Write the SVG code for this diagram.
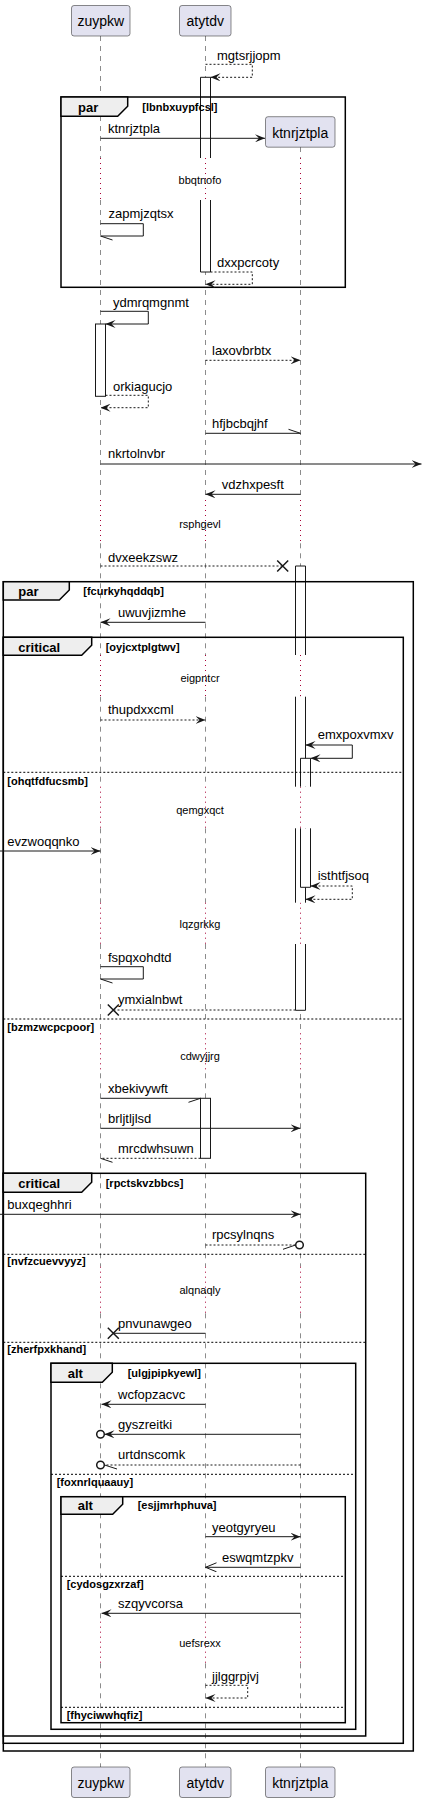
<svg xmlns="http://www.w3.org/2000/svg" width="423" height="1803" viewBox="0 0 423 1803">
<defs>
<style>
.pbox{fill:#E2E2F0;stroke:#181818;stroke-width:0.5}
.pname{font-family:'Liberation Sans',Arial,sans-serif;font-size:14px;fill:#000;text-anchor:middle}
.life{stroke:#181818;stroke-width:0.5;stroke-dasharray:5,5;fill:none}
.delay{stroke:#A80036;stroke-width:1;stroke-dasharray:1,4;fill:none}
.act{fill:#fff;stroke:none}
.actl{fill:none;stroke:#181818;stroke-width:1}
.actf{fill:#fff;stroke:#181818;stroke-width:1}
.frame{fill:none;stroke:#000;stroke-width:1.5}
.tab{fill:#EEEEEE;stroke:#000;stroke-width:1.5}
.div{stroke:#000;stroke-width:1;stroke-dasharray:2,2;fill:none}
.ft{font-family:'Liberation Sans',Arial,sans-serif;font-size:13px;font-weight:bold;fill:#000}
.gt{font-family:'Liberation Sans',Arial,sans-serif;font-size:11px;font-weight:bold;fill:#000}
.msg{stroke:#181818;stroke-width:1;fill:none}
.dash{stroke-dasharray:2,2}
.mt{font-family:'Liberation Sans',Arial,sans-serif;font-size:13px;fill:#000}
.dt{font-family:'Liberation Sans',Arial,sans-serif;font-size:11px;fill:#000;text-anchor:middle}
.xm{stroke:#181818;stroke-width:1.5;fill:none}
.circ{stroke:#181818;stroke-width:1.5;fill:#fff}
.half{stroke:#181818;stroke-width:1;fill:none}
</style>
<marker id="arr" viewBox="0 0 10 8" refX="10" refY="4" markerWidth="10" markerHeight="8" orient="auto" markerUnits="userSpaceOnUse">
<polygon points="0,0 10,4 0,8 4,4" fill="#181818"/>
</marker>
<marker id="arrs" viewBox="0 0 10 8" refX="10" refY="4" markerWidth="10" markerHeight="8" orient="auto-start-reverse" markerUnits="userSpaceOnUse">
<polygon points="0,0 10,4 0,8 4,4" fill="#181818"/>
</marker>
<marker id="open" viewBox="0 0 12 10" refX="11" refY="5" markerWidth="12" markerHeight="10" orient="auto" markerUnits="userSpaceOnUse">
<path d="M0,0.5 L11,5 L0,9.5" fill="none" stroke="#181818" stroke-width="1"/>
</marker>
</defs>

<g id="lifelines">
<path class="life" d="M100.5,36 V158 M100.5,200 V500 M100.5,543.3 V655 M100.5,696.7 V786.7 M100.5,828.3 V902.7 M100.5,944 V1033.3 M100.5,1073.3 V1266.7 M100.5,1313.3 V1621.7 M100.5,1663.3 V1767"/>
<path class="life" d="M205.5,36 V158 M205.5,200 V500 M205.5,543.3 V655 M205.5,696.7 V786.7 M205.5,828.3 V902.7 M205.5,944 V1033.3 M205.5,1073.3 V1266.7 M205.5,1313.3 V1621.7 M205.5,1663.3 V1767"/>
<path class="life" d="M300.5,147 V158 M300.5,200 V500 M300.5,543.3 V655 M300.5,696.7 V786.7 M300.5,828.3 V902.7 M300.5,944 V1033.3 M300.5,1073.3 V1266.7 M300.5,1313.3 V1621.7 M300.5,1663.3 V1767"/>
<path class="delay" d="M100.5,158 V200 M100.5,500 V543.3 M100.5,655 V696.7 M100.5,786.7 V828.3 M100.5,902.7 V944 M100.5,1033.3 V1073.3 M100.5,1266.7 V1313.3 M100.5,1621.7 V1663.3"/>
<path class="delay" d="M205.5,158 V200 M205.5,500 V543.3 M205.5,655 V696.7 M205.5,786.7 V828.3 M205.5,902.7 V944 M205.5,1033.3 V1073.3 M205.5,1266.7 V1313.3 M205.5,1621.7 V1663.3"/>
<path class="delay" d="M300.5,158 V200 M300.5,500 V543.3 M300.5,655 V696.7 M300.5,786.7 V828.3 M300.5,902.7 V944 M300.5,1033.3 V1073.3 M300.5,1266.7 V1313.3 M300.5,1621.7 V1663.3"/>
</g>

<g id="delays">
<text class="dt" x="200" y="184">bbqtnofo</text>
<text class="dt" x="200" y="528">rsphgevl</text>
<text class="dt" x="200" y="681.5">eigpntcr</text>
<text class="dt" x="200" y="813.5">qemgxqct</text>
<text class="dt" x="200" y="928">lqzgrkkg</text>
<text class="dt" x="200" y="1060">cdwyjjrg</text>
<text class="dt" x="200" y="1294">alqnaqly</text>
<text class="dt" x="200" y="1647">uefsrexx</text>
</g>

<g id="activations">
<rect class="act" x="200.5" y="77.3" width="10" height="80.7"/>
<path class="actl" d="M200.5,158 V77.3 H210.5 V158"/>
<rect class="act" x="200.5" y="200" width="10" height="72"/>
<path class="actl" d="M200.5,200 V272 H210.5 V200"/>
<rect class="actf" x="95.5" y="324" width="10" height="72.3"/>
<rect class="act" x="295.5" y="566" width="10" height="89"/>
<path class="actl" d="M295.5,655 V566 H305.5 V655"/>
<rect class="act" x="295.5" y="696.7" width="10" height="90"/>
<path class="actl" d="M295.5,696.7 V786.7 M305.5,696.7 V786.7"/>
<rect class="act" x="295.5" y="828.3" width="10" height="74.4"/>
<path class="actl" d="M295.5,828.3 V902.7 M305.5,828.3 V902.7"/>
<rect class="act" x="295.5" y="944" width="10" height="66.3"/>
<path class="actl" d="M295.5,944 V1010.3 H305.5 V944"/>
<rect class="act" x="300.5" y="758.3" width="10" height="28.4"/>
<path class="actl" d="M300.5,786.7 V758.3 H310.5 V786.7"/>
<rect class="act" x="300.5" y="828.3" width="10" height="59"/>
<path class="actl" d="M300.5,828.3 V887.3 H310.5 V828.3"/>
<rect class="actf" x="200.5" y="1098.3" width="10" height="60"/>
</g>

<g id="frame-par1">
<rect class="frame" x="61" y="97" width="284.3" height="190.3"/>
<path class="tab" d="M61,97 H127.7 V106.3 L117.7,116.3 H61 Z"/>
<text class="ft" x="78" y="111.5">par</text>
<text class="gt" x="142.3" y="110.5">[lbnbxuypfcsl]</text>
</g>
<g id="frame-par2">
<rect class="frame" x="3.3" y="581.7" width="410" height="1169.3"/>
<path class="tab" d="M3.3,581.7 H69.3 V590 L59.3,600 H3.3 Z"/>
<text class="ft" x="18.3" y="595.5">par</text>
<text class="gt" x="83.3" y="594.5">[fcurkyhqddqb]</text>
</g>
<g id="frame-critical1">
<rect class="frame" x="3.3" y="637.3" width="400" height="1106"/>
<path class="tab" d="M3.3,637.3 H91.7 V645.3 L81.7,655.3 H3.3 Z"/>
<text class="ft" x="18.3" y="651.5">critical</text>
<text class="gt" x="105.7" y="650.5">[oyjcxtplgtwv]</text>
<path class="div" d="M3.3,772.3 H403.3 M3.3,1019 H403.3"/>
<text class="gt" x="7.3" y="784.5">[ohqtfdfucsmb]</text>
<text class="gt" x="7.3" y="1031">[bzmzwcpcpoor]</text>
</g>
<g id="frame-critical2">
<rect class="frame" x="3.3" y="1173.3" width="362.4" height="562.7"/>
<path class="tab" d="M3.3,1173.3 H91.7 V1182.3 L81.7,1192.3 H3.3 Z"/>
<text class="ft" x="18.3" y="1187.5">critical</text>
<text class="gt" x="105.7" y="1186.5">[rpctskvzbbcs]</text>
<path class="div" d="M3.3,1254.3 H365.7 M3.3,1342.3 H365.7"/>
<text class="gt" x="7.3" y="1265">[nvfzcuevvyyz]</text>
<text class="gt" x="7.3" y="1353">[zherfpxkhand]</text>
</g>
<g id="frame-alt1">
<rect class="frame" x="51" y="1363.3" width="304.7" height="366"/>
<path class="tab" d="M51,1363.3 H112.3 V1372.3 L102.3,1382.3 H51 Z"/>
<text class="ft" x="67.7" y="1377.5">alt</text>
<text class="gt" x="127.7" y="1376.5">[ulgjpipkyewl]</text>
<path class="div" d="M51,1474.3 H355.7"/>
<text class="gt" x="56.7" y="1485.5">[foxnrlquaauy]</text>
</g>
<g id="frame-alt2">
<rect class="frame" x="61" y="1496.7" width="284.3" height="226"/>
<path class="tab" d="M61,1496.7 H122.7 V1504.3 L112.7,1514.3 H61 Z"/>
<text class="ft" x="77.7" y="1509.5">alt</text>
<text class="gt" x="137.7" y="1508.5">[esjjmrhphuva]</text>
<path class="div" d="M61,1576.3 H345.3 M61,1707.3 H345.3"/>
<text class="gt" x="66.7" y="1588">[cydosgzxrzaf]</text>
<text class="gt" x="66.7" y="1718.5">[fhyciwwhqfiz]</text>
</g>

<g id="participant-zuypkw">
<rect class="pbox" x="71.5" y="5.5" width="58.5" height="30.5" rx="2.5"/>
<text class="pname" x="100.75" y="26">zuypkw</text>
<rect class="pbox" x="71.5" y="1767" width="58.5" height="30.5" rx="2.5"/>
<text class="pname" x="100.75" y="1788">zuypkw</text>
</g>
<g id="participant-atytdv">
<rect class="pbox" x="179.5" y="5.5" width="51.5" height="30.5" rx="2.5"/>
<text class="pname" x="205.25" y="26">atytdv</text>
<rect class="pbox" x="179.5" y="1767" width="51.5" height="30.5" rx="2.5"/>
<text class="pname" x="205.25" y="1788">atytdv</text>
</g>
<g id="participant-ktnrjztpla">
<rect class="pbox" x="265.5" y="116.7" width="69.5" height="30.5" rx="2.5"/>
<text class="pname" x="300.25" y="137.7">ktnrjztpla</text>
<rect class="pbox" x="265.5" y="1767" width="69.5" height="30.5" rx="2.5"/>
<text class="pname" x="300.25" y="1788">ktnrjztpla</text>
</g>

<g id="connectors">
<path class="msg dash" d="M205.5,64.3 H252.3 V77.3 H210.5" marker-end="url(#arr)"/>
<text class="mt" x="217" y="60">mgtsrjjopm</text>

<path class="msg" d="M100.5,138.3 H265" marker-end="url(#arr)"/>
<text class="mt" x="108" y="133">ktnrjztpla</text>

<path class="msg" d="M100.5,223.7 H143.3 V236 H100.5"/>
<path class="half" d="M100.5,236 L112.5,240"/>
<text class="mt" x="108.5" y="218">zapmjzqtsx</text>

<path class="msg dash" d="M210.5,272 H252.3 V284.3 H205.5" marker-end="url(#arr)"/>
<text class="mt" x="217" y="267">dxxpcrcoty</text>

<path class="msg" d="M100.5,311.3 H148.3 V324 H105.5" marker-end="url(#arr)"/>
<text class="mt" x="113" y="306.5">ydmrqmgnmt</text>

<path class="msg dash" d="M205.5,360.3 H300.5" marker-end="url(#arr)"/>
<text class="mt" x="212" y="355">laxovbrbtx</text>

<path class="msg dash" d="M105.5,395.3 H148.3 V407.7 H100.5" marker-end="url(#arr)"/>
<text class="mt" x="113" y="390.5">orkiagucjo</text>

<path class="msg" d="M205.5,433.3 H300.5"/>
<path class="half" d="M288.5,429.3 L300.5,433.3"/>
<text class="mt" x="212" y="428">hfjbcbqjhf</text>

<path class="msg" d="M100.5,464 H421.5" marker-end="url(#arr)"/>
<text class="mt" x="108" y="458">nkrtolnvbr</text>

<path class="msg" d="M300.5,494.3 H205.5" marker-end="url(#arr)"/>
<text class="mt" x="221.7" y="489">vdzhxpesft</text>

<path class="msg dash" d="M100.5,566 H282.7"/>
<path class="xm" d="M277.2,560.5 L288.2,571.5 M288.2,560.5 L277.2,571.5"/>
<text class="mt" x="108" y="561.5">dvxeekzswz</text>

<path class="msg" d="M205.5,622.3 H100.5" marker-end="url(#arr)"/>
<text class="mt" x="118" y="617">uwuvjizmhe</text>

<path class="msg dash" d="M100.5,720 H205.5" marker-end="url(#arr)"/>
<text class="mt" x="108" y="714">thupdxxcml</text>

<path class="msg" d="M305.5,745 H352.3 V758.3 H310.5" marker-start="url(#arrs)" marker-end="url(#arr)"/>
<text class="mt" x="317.7" y="739">emxpoxvmxv</text>

<path class="msg" d="M0,851 H100.5" marker-end="url(#arr)"/>
<text class="mt" x="7.3" y="846">evzwoqqnko</text>

<path class="msg dash" d="M310.5,886 H352.3 V899.3 H305.5" marker-start="url(#arrs)" marker-end="url(#arr)"/>
<text class="mt" x="317.7" y="880">isthtfjsoq</text>

<path class="msg" d="M100.5,966.7 H143.3 V979 H100.5"/>
<path class="half" d="M100.5,979 L112.5,983"/>
<text class="mt" x="108" y="961.5">fspqxohdtd</text>

<path class="msg dash" d="M295.5,1010 H113.3"/>
<path class="xm" d="M107.8,1004.5 L118.8,1015.5 M118.8,1004.5 L107.8,1015.5"/>
<text class="mt" x="118" y="1004">ymxialnbwt</text>

<path class="msg" d="M100.5,1098.3 H200.5"/>
<path class="half" d="M188.5,1102.3 L200.5,1098.3"/>
<text class="mt" x="108" y="1092.5">xbekivywft</text>

<path class="msg" d="M100.5,1128.3 H300.5" marker-end="url(#arr)"/>
<text class="mt" x="108" y="1123">brljtljlsd</text>

<path class="msg dash" d="M200.5,1158.3 H100.5"/>
<path class="half" d="M100.5,1158.3 L112.5,1162.3"/>
<text class="mt" x="118" y="1153">mrcdwhsuwn</text>

<path class="msg" d="M0,1214.3 H300.5" marker-end="url(#arr)"/>
<text class="mt" x="7.3" y="1209">buxqeghhri</text>

<path class="msg dash" d="M205.5,1245 H295.5"/>
<path class="half" d="M283,1249.3 L295.5,1245"/>
<circle class="circ" cx="299.5" cy="1245" r="3.8"/>
<text class="mt" x="212" y="1239">rpcsylnqns</text>

<path class="msg" d="M205.5,1333.3 H113.3"/>
<path class="xm" d="M107.8,1327.8 L118.8,1338.8 M118.8,1327.8 L107.8,1338.8"/>
<text class="mt" x="118" y="1327.5">pnvunawgeo</text>

<path class="msg" d="M205.5,1404.3 H101.5" marker-end="url(#arr)"/>
<text class="mt" x="118" y="1399">wcfopzacvc</text>

<path class="msg" d="M300.5,1434.3 H104.5" marker-end="url(#arr)"/>
<circle class="circ" cx="100.5" cy="1434.3" r="3.8"/>
<text class="mt" x="118" y="1429">gyszreitki</text>

<path class="msg dash" d="M300.5,1465 H104.5"/>
<path class="half" d="M104.5,1465 L117,1469"/>
<circle class="circ" cx="100.5" cy="1465" r="3.8"/>
<text class="mt" x="118" y="1458.5">urtdnscomk</text>

<path class="msg" d="M205.5,1536.7 H300.5" marker-end="url(#arr)"/>
<text class="mt" x="212" y="1531.5">yeotgyryeu</text>

<path class="msg" d="M300.5,1567.3 H205.5" marker-end="url(#open)"/>
<text class="mt" x="222" y="1561.5">eswqmtzpkv</text>

<path class="msg" d="M300.5,1613.3 H101.5" marker-end="url(#arr)"/>
<text class="mt" x="118" y="1608">szqyvcorsa</text>

<path class="msg dash" d="M205.5,1685.3 H247.7 V1698 H205.5" marker-end="url(#arr)"/>
<text class="mt" x="212" y="1680.5">jjlggrpjvj</text>
</g>
</svg>
